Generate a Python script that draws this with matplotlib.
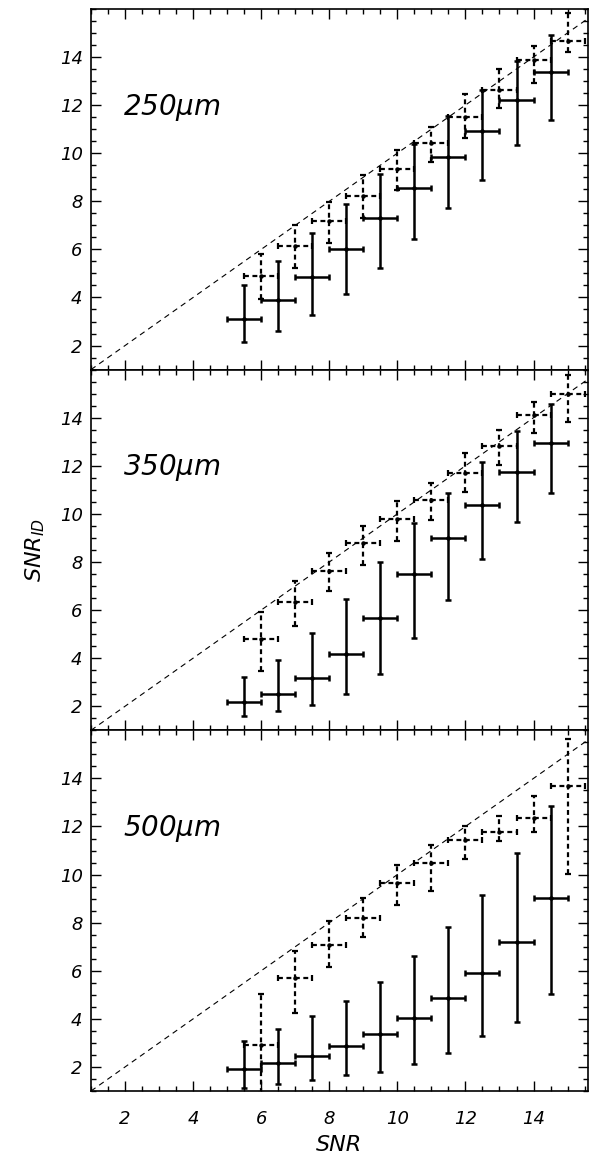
import numpy as np
import matplotlib
matplotlib.use("Agg")
import matplotlib.pyplot as plt
from matplotlib.ticker import MultipleLocator

plt.rcParams['font.family'] = ['DejaVu Sans']
plt.rcParams['font.style'] = 'oblique'
plt.rcParams['font.weight'] = 'light'
plt.rcParams['mathtext.fontset'] = 'custom'
plt.rcParams['mathtext.it'] = 'DejaVu Sans:oblique:light'
plt.rcParams['mathtext.rm'] = 'DejaVu Sans:oblique:light'

# SNR bin centres
snr_all = np.array([5.5, 6.5, 7.5, 8.5, 9.5, 10.5, 11.5, 12.5, 13.5, 14.5])
snr_id = np.array([6, 7, 8, 9, 10, 11, 12, 13, 14, 15])
bands = ['250$\\mu m$', '350$\\mu m$', '500$\\mu m$']

# solid bars: median, lower end, upper end
solid_mid = [
    [3.11, 3.90, 4.87, 6.03, 7.29, 8.55, 9.86, 10.93, 12.22, 13.37],
    [2.17, 2.53, 3.16, 4.16, 5.67, 7.48, 8.99, 10.35, 11.75, 12.94],
    [1.90, 2.15, 2.46, 2.87, 3.36, 4.05, 4.88, 5.89, 7.20, 9.03],
]
solid_lo = [
    [2.15, 2.62, 3.29, 4.16, 5.23, 6.44, 7.74, 8.89, 10.32, 11.39],
    [1.61, 1.79, 2.07, 2.51, 3.36, 4.84, 6.43, 8.13, 9.68, 10.87],
    [1.11, 1.29, 1.46, 1.67, 1.81, 2.11, 2.59, 3.29, 3.88, 5.03],
]
solid_hi = [
    [4.50, 5.53, 6.66, 7.90, 9.13, 10.40, 11.56, 12.63, 13.84, 14.92],
    [3.20, 3.91, 5.03, 6.47, 8.01, 9.64, 10.86, 12.16, 13.46, 14.56],
    [3.09, 3.57, 4.12, 4.74, 5.52, 6.61, 7.80, 9.17, 10.90, 12.84],
]

# dashed bars: median, lower end, upper end
dashed_mid = [
    [4.89, 6.14, 7.18, 8.23, 9.35, 10.42, 11.51, 12.63, 13.86, 14.67],
    [4.81, 6.34, 7.61, 8.79, 9.79, 10.58, 11.68, 12.83, 14.11, 14.97],
    [2.91, 5.70, 7.07, 8.20, 9.65, 10.48, 11.43, 11.77, 12.37, 13.67],
]
dashed_lo = [
    [3.94, 5.22, 6.26, 7.30, 8.45, 9.64, 10.63, 11.87, 12.91, 14.22],
    [3.48, 5.32, 6.78, 7.88, 8.88, 9.74, 10.93, 12.04, 13.35, 13.84],
    [0.90, 4.23, 6.14, 7.41, 8.73, 9.31, 10.64, 11.39, 11.77, 10.04],
]
dashed_hi = [
    [5.81, 7.01, 7.99, 9.10, 10.13, 11.09, 12.45, 13.49, 14.47, 15.82],
    [5.93, 7.19, 8.37, 9.48, 10.54, 11.30, 12.55, 13.49, 14.64, 15.77],
    [5.03, 6.83, 8.08, 9.01, 10.39, 11.25, 12.02, 12.42, 13.25, 15.62],
]

fig = plt.figure(figsize=(5.9, 11.59), dpi=100)
left, width = 91 / 590, 497 / 590
bottom0, h = 68 / 1159, 360.7 / 1159
axes = []
for i in range(3):
    ax = fig.add_axes([left, bottom0 + (2 - i) * h, width, h])
    axes.append(ax)

dash = (0, (2.2, 1.6))
for i, ax in enumerate(axes):
    ax.set_xlim(1, 15.6)
    ax.set_ylim(1, 16)

    xs = np.array(ax.get_xlim())
    ax.plot(xs, xs, color='black', lw=0.8, linestyle=(0, (5, 4)), zorder=1)

    mid = np.array(solid_mid[i])
    yerr = [mid - np.array(solid_lo[i]), np.array(solid_hi[i]) - mid]
    ax.errorbar(snr_all, mid, xerr=0.5, yerr=yerr, fmt='o', ms=2.2,
                color='black', ecolor='black', elinewidth=1.8,
                capsize=2.2, capthick=1.8, zorder=3)

    dmid = np.array(dashed_mid[i])
    dyerr = [dmid - np.array(dashed_lo[i]), np.array(dashed_hi[i]) - dmid]
    eb = ax.errorbar(snr_id, dmid, xerr=0.5, yerr=dyerr, fmt='o', ms=2.2,
                     color='black', ecolor='black', elinewidth=1.6,
                     capsize=2.2, capthick=1.6, zorder=2)
    for coll in eb[2]:
        coll.set_linestyle(dash)

    ax.text(1.95, 11.6, bands[i], fontsize=20, ha='left', va='baseline')

    ax.xaxis.set_major_locator(MultipleLocator(2))
    ax.xaxis.set_minor_locator(MultipleLocator(0.5))
    ax.yaxis.set_major_locator(MultipleLocator(2))
    ax.yaxis.set_minor_locator(MultipleLocator(0.5))
    ax.set_yticks([2, 4, 6, 8, 10, 12, 14])
    ax.tick_params(which='both', direction='in', top=True, right=True,
                   width=1.0, labelsize=13)
    ax.tick_params(which='major', length=7.5)
    ax.tick_params(which='minor', length=3.5)
    ax.tick_params(axis='y', pad=6)
    ax.tick_params(axis='x', pad=14)
    for sp in ax.spines.values():
        sp.set_linewidth(1.2)
    if i < 2:
        ax.tick_params(axis='x', labelbottom=False)
    else:
        ax.set_xticks([2, 4, 6, 8, 10, 12, 14])
        ax.set_xlabel('SNR', fontsize=16, labelpad=5)

axes[1].set_ylabel('$SNR_{ID}$', fontsize=16, labelpad=9)

fig.savefig('out.png', dpi=100)
